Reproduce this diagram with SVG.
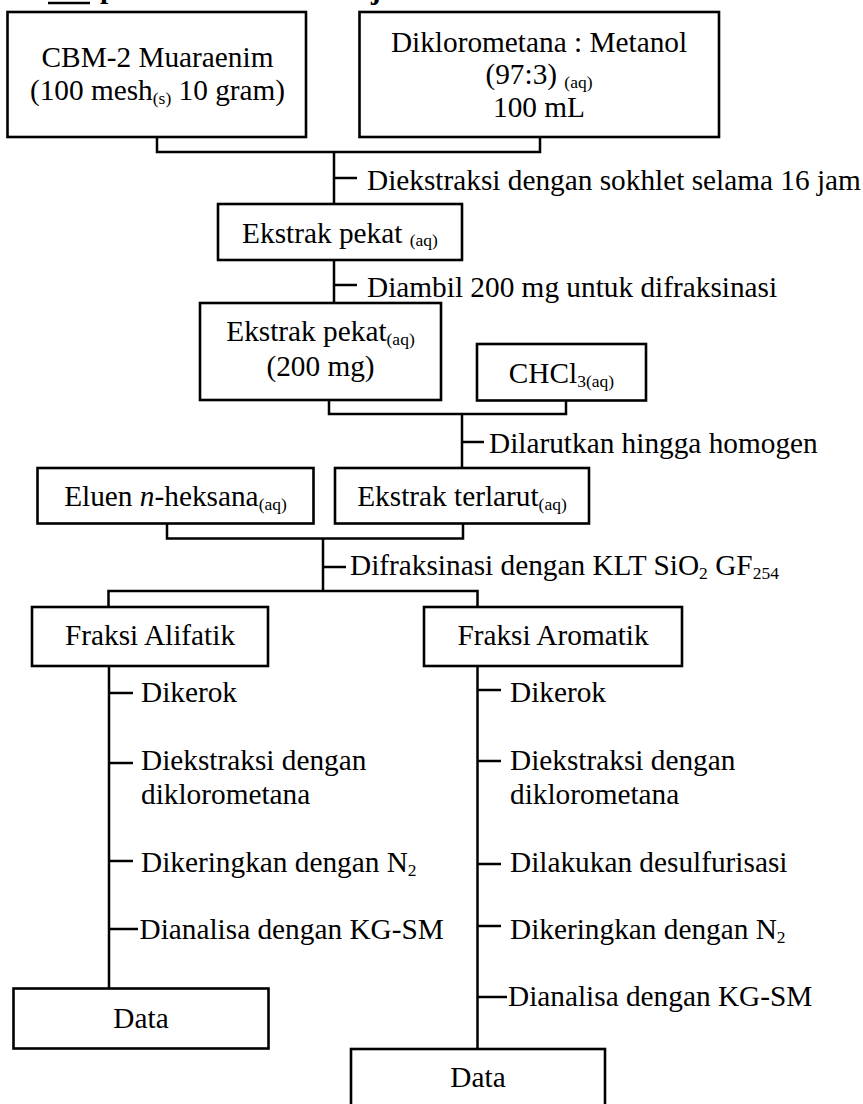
<svg xmlns="http://www.w3.org/2000/svg" width="863" height="1104" viewBox="0 0 863 1104">
<style>
text{font-family:"Liberation Serif","Times New Roman",serif;font-size:29.3px;fill:#000}
.c{text-anchor:middle}
.s{font-size:17.5px}
.b{fill:#fff;stroke:#000;stroke-width:2.6}
.ln{fill:none;stroke:#000;stroke-width:2.5}
.hd{font-weight:bold}
</style>
<rect width="863" height="1104" fill="#fff"/>
<g id="header-fragment">
<line x1="48" y1="3" x2="90" y2="3" stroke="#000" stroke-width="2.5"/>
<text class="hd" x="100" y="-2">p</text>
<text class="hd" x="371" y="-1">j</text>
</g>
<g id="connectors">
<path class="ln" d="M157,137 V152 H540 V137 M334,152 V204"/>
<path class="ln" d="M334,178 H357"/>
<path class="ln" d="M334,260 V303 M334,285 H357"/>
<path class="ln" d="M329,400 V414 H566 V400 M462,414 V468 M462,442 H484"/>
<path class="ln" d="M167,523 V538.5 H463 V523 M323,538.5 V591 M323,567 H346"/>
<path class="ln" d="M108.5,607 V591 H477.5 V607"/>
<path class="ln" d="M109,666 V988 M109,693 H133 M109,763 H133 M109,861 H133 M109,929 H138"/>
<path class="ln" d="M477.5,666 V1049 M477.5,690 H501 M477.5,761 H501 M477.5,864 H501 M477.5,926 H501 M477.5,997 H507"/>
</g>
<g id="labels">
<text x="367" y="190">Diekstraksi dengan sokhlet selama 16 jam</text>
<text x="367" y="297">Diambil 200 mg untuk difraksinasi</text>
<text x="489" y="453">Dilarutkan hingga homogen</text>
<text x="350" y="575">Difraksinasi dengan KLT SiO<tspan class="s" dy="4">2</tspan><tspan dy="-4"> GF</tspan><tspan class="s" dy="4">254</tspan></text>
<text x="141" y="702">Dikerok</text>
<text x="141" y="770">Diekstraksi dengan</text>
<text x="141" y="804">diklorometana</text>
<text x="141" y="872">Dikeringkan dengan N<tspan class="s" dy="4">2</tspan></text>
<text x="139.5" y="939">Dianalisa dengan KG-SM</text>
<text x="510" y="702">Dikerok</text>
<text x="510" y="770">Diekstraksi dengan</text>
<text x="510" y="804">diklorometana</text>
<text x="510" y="872">Dilakukan desulfurisasi</text>
<text x="510" y="939">Dikeringkan dengan N<tspan class="s" dy="4">2</tspan></text>
<text x="508" y="1006">Dianalisa dengan KG-SM</text>
</g>
<g id="n-sample">
<rect class="b" x="7.5" y="12" width="298.5" height="125"/>
<text class="c" x="157.5" y="67">CBM-2 Muaraenim</text>
<text class="c" x="157.5" y="100">(100 mesh<tspan class="s" dy="4">(s)</tspan><tspan dy="-4"> 10 gram)</tspan></text>
</g>
<g id="n-solvent">
<rect class="b" x="359.5" y="12" width="359.5" height="125"/>
<text class="c" x="539" y="52">Diklorometana : Metanol</text>
<text class="c" x="539" y="84">(97:3) <tspan class="s" dy="4">(aq)</tspan></text>
<text class="c" x="539" y="117">100 mL</text>
</g>
<g id="n-extract">
<rect class="b" x="218" y="204" width="244" height="56"/>
<text class="c" x="340" y="243">Ekstrak pekat <tspan class="s" dy="3">(aq)</tspan></text>
</g>
<g id="n-extract200">
<rect class="b" x="200" y="303" width="241" height="97"/>
<text class="c" x="320.5" y="341">Ekstrak pekat<tspan class="s" dy="4">(aq)</tspan></text>
<text class="c" x="320.5" y="376">(200 mg)</text>
</g>
<g id="n-chcl3">
<rect class="b" x="477" y="344" width="169" height="56.5"/>
<text class="c" x="561.5" y="383">CHCl<tspan class="s" dy="4">3(aq)</tspan></text>
</g>
<g id="n-eluen">
<rect class="b" x="37.5" y="468" width="276" height="55.5"/>
<text class="c" x="175.5" y="506">Eluen <tspan font-style="italic">n</tspan>-heksana<tspan class="s" dy="4">(aq)</tspan></text>
</g>
<g id="n-dissolved">
<rect class="b" x="335" y="468" width="254" height="55.5"/>
<text class="c" x="462" y="506">Ekstrak terlarut<tspan class="s" dy="4">(aq)</tspan></text>
</g>
<g id="n-aliphatic">
<rect class="b" x="32" y="607" width="236" height="59"/>
<text class="c" x="150" y="645">Fraksi Alifatik</text>
</g>
<g id="n-aromatic">
<rect class="b" x="424" y="607" width="258" height="59"/>
<text class="c" x="553" y="645">Fraksi Aromatik</text>
</g>
<g id="n-data1">
<rect class="b" x="13.5" y="988.5" width="255" height="60"/>
<text class="c" x="141" y="1028">Data</text>
</g>
<g id="n-data2">
<rect class="b" x="351" y="1049" width="254" height="62"/>
<text class="c" x="478" y="1087">Data</text>
</g>
</svg>
